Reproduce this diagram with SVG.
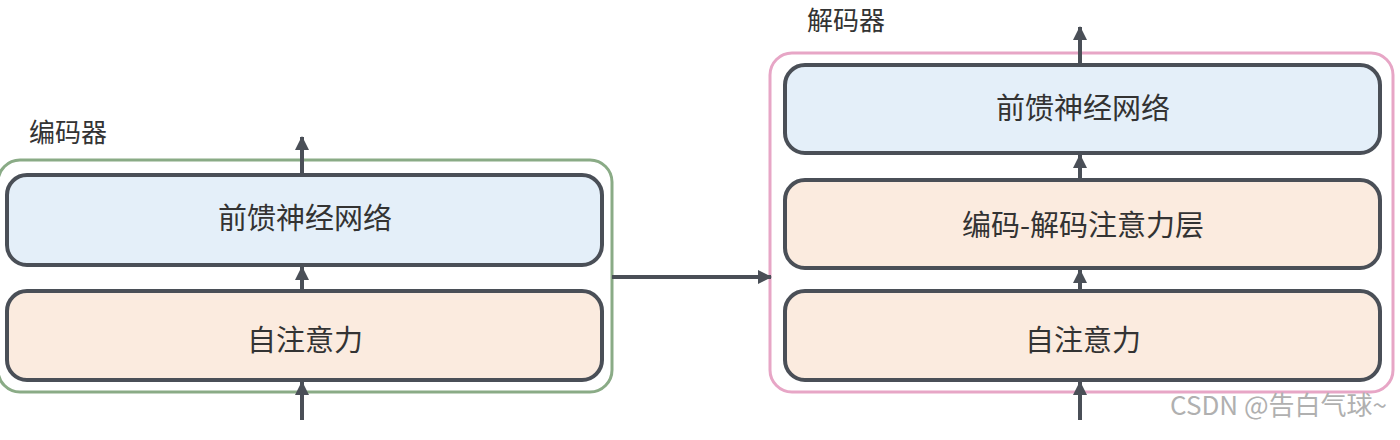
<svg xmlns="http://www.w3.org/2000/svg" width="1400" height="440" viewBox="0 0 1400 440">
<defs>
<marker id="ahs" markerWidth="14" markerHeight="14" refX="13" refY="7" orient="auto" markerUnits="userSpaceOnUse"><path d="M0,0 L14,7 L0,14 Z" fill="#4a4f57"/></marker>
</defs>
<style>
.t{font-family:"Noto Sans CJK SC","Noto Sans",sans-serif;fill:#333;}
.lbl{font-size:26px;}
.nt{font-size:29px;text-anchor:middle;dominant-baseline:central;}
.ffn{fill:#e4eff9;stroke:#4a4f57;stroke-width:4;}
.att{fill:#fbebdf;stroke:#4a4f57;stroke-width:4;}
.c{fill:none;stroke:#4a4f57;stroke-width:4;}
.enc{fill:none;stroke:#8aab86;stroke-width:3;}
.dec{fill:none;stroke:#e7a6c6;stroke-width:3;}
.wm{font-family:"Noto Sans CJK SC","Noto Sans",sans-serif;font-size:26px;fill:#b0b0b0;}
</style>
<rect width="1400" height="440" fill="#fff"/>
<g id="encoder">
<rect class="enc" x="-2" y="160" width="614" height="232" rx="22"/>
<text class="t lbl" x="29" y="142">编码器</text>
</g>
<g id="decoder">
<rect class="dec" x="770" y="53" width="623" height="339" rx="22"/>
<text class="t lbl" x="807" y="30">解码器</text>
</g>
<g id="enc-ffn">
<rect class="ffn" x="7" y="175" width="595" height="90" rx="20"/>
<text class="t nt" x="305" y="216">前馈神经网络</text>
</g>
<g id="enc-self">
<rect class="att" x="7" y="291" width="595" height="89" rx="20"/>
<text class="t nt" x="305" y="338">自注意力</text>
</g>
<g id="dec-ffn">
<rect class="ffn" x="785" y="65" width="595" height="88" rx="20"/>
<text class="t nt" x="1083" y="106">前馈神经网络</text>
</g>
<g id="dec-cross">
<rect class="att" x="785" y="180" width="595" height="88" rx="20"/>
<text class="t nt" x="1083" y="223">编码-解码注意力层</text>
</g>
<g id="dec-self">
<rect class="att" x="785" y="291" width="595" height="89" rx="20"/>
<text class="t nt" x="1083" y="338">自注意力</text>
</g>
<g id="connectors">
<line class="c" x1="302" y1="420" x2="302" y2="382" marker-end="url(#ahs)"/>
<line class="c" x1="302" y1="289" x2="302" y2="267" marker-end="url(#ahs)"/>
<line class="c" x1="302" y1="173" x2="302" y2="137" marker-end="url(#ahs)"/>
<line class="c" x1="1080" y1="420" x2="1080" y2="382" marker-end="url(#ahs)"/>
<line class="c" x1="1080" y1="289" x2="1080" y2="270" marker-end="url(#ahs)"/>
<line class="c" x1="1080" y1="178" x2="1080" y2="155" marker-end="url(#ahs)"/>
<line class="c" x1="1080" y1="63" x2="1080" y2="27" marker-end="url(#ahs)"/>
<line class="c" x1="612" y1="277" x2="771" y2="277" marker-end="url(#ahs)"/>
</g>
<text class="wm" x="1170" y="415">CSDN @告白气球~</text>
</svg>
